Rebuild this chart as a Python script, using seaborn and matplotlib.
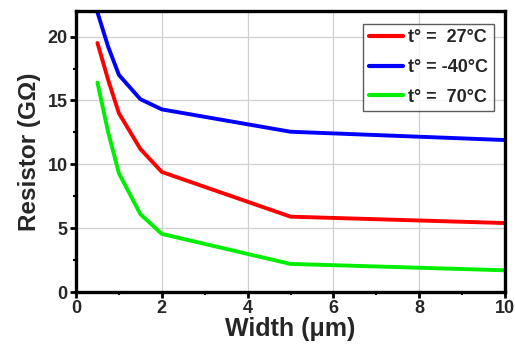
import matplotlib
matplotlib.use("Agg")
import matplotlib.pyplot as plt
import seaborn as sns
import pandas as pd
from matplotlib.ticker import MultipleLocator

width = [0.5, 0.75, 1.0, 1.5, 2.0, 5.0, 10.0]
r_27 = [19.5, 16.6, 14.0, 11.2, 9.4, 5.9, 5.4]
r_m40 = [21.9, 19.2, 17.0, 15.1, 14.3, 12.55, 11.9]
r_70 = [16.4, 12.5, 9.3, 6.1, 4.55, 2.2, 1.7]
labels = ["t° =  27°C", "t° = -40°C", "t° =  70°C"]
colors = ["#ff0000", "#0000ff", "#00ee00"]

rows = []
for lab, vals in zip(labels, [r_27, r_m40, r_70]):
    for x, v in zip(width, vals):
        rows.append({"Width": x, "R": v, "T": lab})
df = pd.DataFrame(rows)

sns.set_theme(style="whitegrid")
plt.rcParams['font.family'] = ['Liberation Sans', 'DejaVu Sans']
plt.rcParams['font.weight'] = 'bold'

fig = plt.figure(figsize=(5.15, 3.49), dpi=100)
ax = fig.add_axes([0.1476, 0.1633, 0.833, 0.805])
sns.lineplot(data=df, x="Width", y="R", hue="T", hue_order=labels,
             palette=dict(zip(labels, colors)), linewidth=2.8, ax=ax, sort=False)

ax.set_xlim(0, 10)
ax.set_ylim(0, 22)
ax.xaxis.set_major_locator(MultipleLocator(2))
ax.xaxis.set_minor_locator(MultipleLocator(1))
ax.yaxis.set_major_locator(MultipleLocator(5))
ax.yaxis.set_minor_locator(MultipleLocator(2.5))
ax.grid(True, which='major', color='#d0d0d0', linewidth=0.9)
ax.grid(False, which='minor')
for s in ax.spines.values():
    s.set_visible(True)
    s.set_color('black')
    s.set_linewidth(2.4)
ax.tick_params(axis='both', which='major', direction='out', length=4, width=2,
               color='black', labelsize=13, pad=2)
ax.tick_params(axis='both', which='minor', direction='out', length=2, width=1.5,
               color='black')
ax.tick_params(axis='x', which='both', bottom=True)
ax.tick_params(axis='y', which='both', left=True)
for lab in ax.get_xticklabels() + ax.get_yticklabels():
    lab.set_fontweight('bold')

ax.set_xlabel("Width (μm)", fontsize=18, fontweight='bold', labelpad=0)
ax.set_ylabel("Resistor (GΩ)", fontsize=17.5, fontweight='bold', labelpad=5)

leg = ax.legend(loc='upper right', bbox_to_anchor=(0.974, 0.954), frameon=True,
                fancybox=False, fontsize=13, handlelength=1.9,
                handletextpad=0.3, borderpad=0.3, labelspacing=0.7,
                borderaxespad=0.0, handleheight=0.7)
leg.get_frame().set_edgecolor('#333333')
leg.get_frame().set_linewidth(1.0)
for t in leg.get_texts():
    t.set_fontweight('bold')
for h in leg.get_lines():
    h.set_linewidth(3.0)

fig.savefig("out.png", dpi=100)
